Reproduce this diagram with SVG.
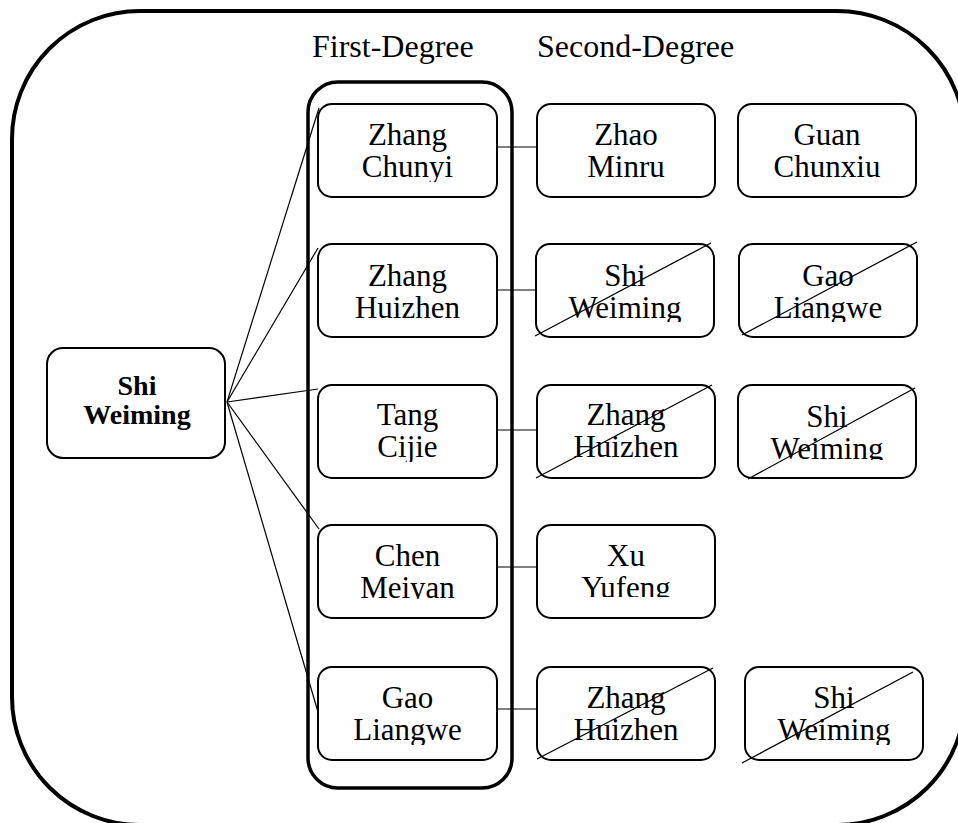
<svg xmlns="http://www.w3.org/2000/svg" width="958" height="823" viewBox="0 0 958 823">
<style>
.frame{fill:none;stroke:#000;stroke-width:4}
.col{fill:none;stroke:#000;stroke-width:3.5}
.node{fill:#fff;stroke:#000;stroke-width:2}
.lbl{font-family:"Liberation Serif","Times New Roman",serif;font-size:31px;fill:#000;text-anchor:middle}
.hdr{font-family:"Liberation Serif","Times New Roman",serif;font-size:32px;fill:#000}
.bold{font-weight:bold;font-size:28px}
.edge{stroke:#000;stroke-width:1.2;fill:none}
.cross{stroke:#000;stroke-width:1.3;fill:none}
</style>
<defs>
<clipPath id="cF1"><rect x="318" y="104" width="179" height="78"/></clipPath>
<clipPath id="cF2"><rect x="318" y="244" width="179" height="78"/></clipPath>
<clipPath id="cF3"><rect x="318" y="385" width="179" height="77"/></clipPath>
<clipPath id="cF4"><rect x="318" y="525" width="179" height="74"/></clipPath>
<clipPath id="cF5"><rect x="318" y="667" width="179" height="78"/></clipPath>
<clipPath id="cS1a"><rect x="537" y="104" width="178" height="78"/></clipPath>
<clipPath id="cS1b"><rect x="738" y="104" width="178" height="78"/></clipPath>
<clipPath id="cS2a"><rect x="536" y="244" width="178" height="78"/></clipPath>
<clipPath id="cS2b"><rect x="739" y="244" width="178" height="78"/></clipPath>
<clipPath id="cS3a"><rect x="537" y="385" width="178" height="77"/></clipPath>
<clipPath id="cS3b"><rect x="738" y="385" width="178" height="75"/></clipPath>
<clipPath id="cS4a"><rect x="537" y="525" width="178" height="72"/></clipPath>
<clipPath id="cS5a"><rect x="537" y="667" width="178" height="78"/></clipPath>
<clipPath id="cS5b"><rect x="745" y="667" width="178" height="78"/></clipPath>
</defs>

<rect class="frame" x="12" y="11" width="953" height="814" rx="128" ry="128"/>
<text class="hdr" x="312" y="57">First-Degree</text>
<text class="hdr" x="537" y="57">Second-Degree</text>
<rect class="col" x="308" y="82" width="204" height="706" rx="30" ry="30"/>

<g id="connectors">
<line class="edge" x1="227" y1="402" x2="319" y2="108"/>
<line class="edge" x1="227" y1="402" x2="318" y2="248"/>
<line class="edge" x1="227" y1="402" x2="318" y2="389"/>
<line class="edge" x1="227" y1="402" x2="319" y2="529"/>
<line class="edge" x1="227" y1="402" x2="318" y2="712"/>
<line class="edge" x1="497" y1="147" x2="537" y2="147"/>
<line class="edge" x1="497" y1="290" x2="536" y2="290"/>
<line class="edge" x1="497" y1="430" x2="537" y2="430"/>
<line class="edge" x1="497" y1="567" x2="537" y2="567"/>
<line class="edge" x1="497" y1="709" x2="537" y2="709"/>
</g>

<g id="shi-weiming-root">
<rect class="node" x="47" y="348" width="178" height="110" rx="16"/>
<text class="lbl bold" x="137" y="395">Shi</text>
<text class="lbl bold" x="137" y="424">Weiming</text>
</g>

<g id="zhang-chunyi">
<rect class="node" x="318" y="104" width="179" height="93" rx="14"/>
<g clip-path="url(#cF1)"><text class="lbl" x="407.5" y="145">Zhang</text><text class="lbl" x="407.5" y="177">Chunyi</text></g>
</g>
<g id="zhang-huizhen">
<rect class="node" x="318" y="244" width="179" height="93" rx="14"/>
<g clip-path="url(#cF2)"><text class="lbl" x="407.5" y="286">Zhang</text><text class="lbl" x="407.5" y="318">Huizhen</text></g>
</g>
<g id="tang-cijie">
<rect class="node" x="318" y="385" width="179" height="93" rx="14"/>
<g clip-path="url(#cF3)"><text class="lbl" x="407.5" y="425">Tang</text><text class="lbl" x="407.5" y="457">Cijie</text></g>
</g>
<g id="chen-meiyan">
<rect class="node" x="318" y="525" width="179" height="93" rx="14"/>
<g clip-path="url(#cF4)"><text class="lbl" x="407.5" y="566">Chen</text><text class="lbl" x="407.5" y="598">Meiyan</text></g>
</g>
<g id="gao-liangwe">
<rect class="node" x="318" y="667" width="179" height="93" rx="14"/>
<g clip-path="url(#cF5)"><text class="lbl" x="407.5" y="708">Gao</text><text class="lbl" x="407.5" y="740">Liangwe</text></g>
</g>

<g id="zhao-minru">
<rect class="node" x="537" y="104" width="178" height="93" rx="14"/>
<g clip-path="url(#cS1a)"><text class="lbl" x="626" y="145">Zhao</text><text class="lbl" x="626" y="177">Minru</text></g>
</g>
<g id="guan-chunxiu">
<rect class="node" x="738" y="104" width="178" height="93" rx="14"/>
<g clip-path="url(#cS1b)"><text class="lbl" x="827" y="145">Guan</text><text class="lbl" x="827" y="177">Chunxiu</text></g>
</g>
<g id="shi-weiming-2">
<rect class="node" x="536" y="244" width="178" height="93" rx="14"/>
<g clip-path="url(#cS2a)"><text class="lbl" x="625" y="286">Shi</text><text class="lbl" x="625" y="318">Weiming</text></g>
<line class="cross" x1="535" y1="336" x2="711" y2="243"/>
</g>
<g id="gao-liangwe-2">
<rect class="node" x="739" y="244" width="178" height="93" rx="14"/>
<g clip-path="url(#cS2b)"><text class="lbl" x="828" y="286">Gao</text><text class="lbl" x="828" y="318">Liangwe</text></g>
<line class="cross" x1="742" y1="335" x2="917" y2="242"/>
</g>
<g id="zhang-huizhen-3">
<rect class="node" x="537" y="385" width="178" height="93" rx="14"/>
<g clip-path="url(#cS3a)"><text class="lbl" x="626" y="425">Zhang</text><text class="lbl" x="626" y="457">Huizhen</text></g>
<line class="cross" x1="536" y1="478" x2="712" y2="385"/>
</g>
<g id="shi-weiming-3">
<rect class="node" x="738" y="385" width="178" height="93" rx="14"/>
<g clip-path="url(#cS3b)"><text class="lbl" x="827" y="427">Shi</text><text class="lbl" x="827" y="459">Weiming</text></g>
<line class="cross" x1="748" y1="479" x2="915" y2="388"/>
</g>
<g id="xu-yufeng">
<rect class="node" x="537" y="525" width="178" height="93" rx="14"/>
<g clip-path="url(#cS4a)"><text class="lbl" x="626" y="566">Xu</text><text class="lbl" x="626" y="598">Yufeng</text></g>
</g>
<g id="zhang-huizhen-5">
<rect class="node" x="537" y="667" width="178" height="93" rx="14"/>
<g clip-path="url(#cS5a)"><text class="lbl" x="626" y="708">Zhang</text><text class="lbl" x="626" y="740">Huizhen</text></g>
<line class="cross" x1="537" y1="759" x2="713" y2="668"/>
</g>
<g id="shi-weiming-5">
<rect class="node" x="745" y="667" width="178" height="93" rx="14"/>
<g clip-path="url(#cS5b)"><text class="lbl" x="834" y="708">Shi</text><text class="lbl" x="834" y="740">Weiming</text></g>
<line class="cross" x1="742" y1="763" x2="913" y2="672"/>
</g>
</svg>
